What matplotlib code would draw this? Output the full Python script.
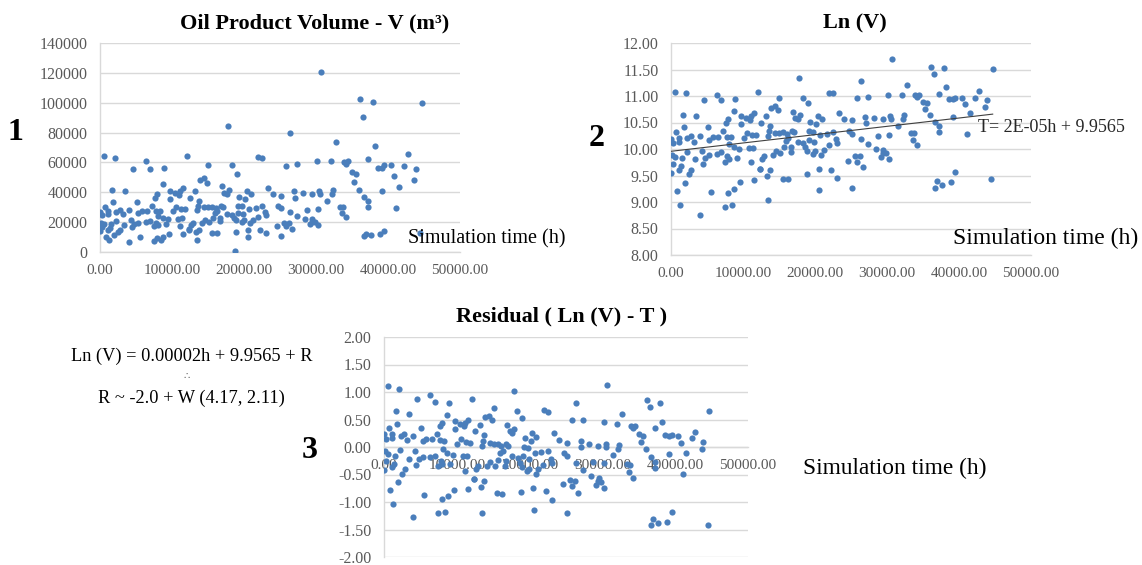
import numpy as np
import matplotlib
matplotlib.use("Agg")
import matplotlib.pyplot as plt

plt.rcParams['font.family'] = ['Liberation Serif', 'DejaVu Serif']

# ---- data (simulation hours, Ln of oil product volume) ----
hours = [
    510, 2083, 4537, 6343, 6990, 8935, 12040, 1713, 3426, 8700, 7917, 7640, 9770, 10418,
    11112, 11570, 10973, 9723, 1852, 694, 50, 231, 1065, 1111, 2268, 2732, 3195, 3982,
    5139, 5324, 5787, 6574, 7223, 7732, 8287, 8102, 8703, 9491, 10094, 10557, 11205, 11807,
    10788, 11436, 100, 602, 324, 1482, 2176, 1389, 1065, 2824, 3380, 4260, 4445, 4769,
    5324, 6343, 6990, 7454, 7778, 8009, 9120, 46, 2454, 1898, 880, 1296, 3982, 5510,
    7454, 8426, 7917, 8750, 9584, 11529, 11158, 12316,
    17824, 15046, 18289, 18984, 21992, 22548, 13890, 14446, 14862, 13149, 12548, 13705,
    16900, 17270, 17594, 17918, 19354, 20372, 20141, 20928, 23382, 24030, 13566, 13473,
    14492, 15047, 15603, 16112, 16807, 17038, 19215, 19770, 20743, 21622, 22548, 16297,
    15974, 17594, 18382, 19122, 19909, 22919, 23057, 21900, 21205, 15649, 16714, 16621,
    18613, 18890, 19678, 19955, 20882, 14585, 14122, 15186, 12872, 12640, 24540, 12409,
    13751, 13334, 15510, 16251, 18845, 20511, 22271, 23010, 20557, 13473,
    30697, 36114, 36531, 26437, 32735, 25836, 27316, 30188, 32040, 33892, 34447, 34215,
    37180, 35048, 35558, 35327, 35975, 36716, 37180, 37180, 25141, 26993, 27086, 28197,
    29400, 30465, 30558, 32179, 32318, 31485, 24678, 25141, 26391, 28752, 30234, 33336,
    33753, 33660, 34169, 27316, 28475, 29493, 29400, 29864, 29123, 30234, 25512, 26252,
    25836, 26623, 36901, 36716, 25141,
    37967, 44679, 38198, 42736, 38660, 39123, 39494, 40373, 42273, 43846, 40837, 43615,
    41532, 39216, 41068, 39494, 38939, 37642, 44448,
    18700,
]
ln_volume = [
    11.07, 11.05, 10.92, 11.02, 10.92, 10.94, 11.07, 10.64, 10.62, 10.72, 10.56, 10.50, 10.62, 10.59,
    10.62, 10.67, 10.55, 10.48, 10.42, 10.32, 10.19, 10.11, 10.21, 10.14, 10.20, 10.25, 10.14, 10.24,
    10.41, 10.17, 10.22, 10.23, 10.34, 10.23, 10.23, 10.09, 10.03, 10.00, 10.21, 10.31, 10.27, 10.27,
    10.01, 10.02, 9.89, 9.84, 9.71, 9.83, 9.94, 9.67, 9.61, 9.61, 9.81, 9.97, 9.71, 9.83,
    9.89, 9.91, 9.94, 9.76, 9.86, 9.81, 9.83, 9.54, 9.52, 9.36, 9.20, 8.95, 8.76, 9.19,
    8.91, 8.95, 9.17, 9.24, 9.37, 9.42, 9.75, 9.62,
    11.34, 10.97, 10.97, 10.87, 11.06, 11.05, 10.78, 10.81, 10.74, 10.62, 10.50, 10.44,
    10.69, 10.59, 10.56, 10.64, 10.51, 10.62, 10.47, 10.56, 10.67, 10.56, 10.34, 10.25,
    10.31, 10.31, 10.32, 10.29, 10.34, 10.32, 10.34, 10.33, 10.26, 10.29, 10.33, 10.21,
    10.16, 10.14, 10.12, 10.17, 10.14, 10.19, 10.12, 10.07, 9.98, 10.03, 10.03, 9.94,
    10.03, 9.97, 9.91, 9.96, 9.89, 9.97, 9.89, 9.92, 9.87, 9.81, 9.78, 9.63,
    9.61, 9.49, 9.43, 9.43, 9.52, 9.62, 9.61, 9.45, 9.22, 9.03,
    11.70, 11.54, 11.41, 11.29, 11.21, 10.96, 10.99, 11.02, 11.02, 11.01, 11.02, 10.99,
    11.04, 10.89, 10.86, 10.76, 10.64, 10.51, 10.43, 10.32, 10.54, 10.61, 10.49, 10.58,
    10.57, 10.62, 10.56, 10.56, 10.64, 10.44, 10.34, 10.29, 10.19, 10.25, 10.27, 10.31,
    10.31, 10.17, 10.07, 10.09, 10.00, 9.99, 9.92, 9.92, 9.84, 9.81, 9.86, 9.86,
    9.76, 9.66, 9.39, 9.27, 9.26,
    11.52, 11.51, 11.17, 11.09, 10.94, 10.94, 10.97, 10.97, 10.96, 10.92, 10.84, 10.79,
    10.68, 10.61, 10.28, 9.57, 9.38, 9.32, 9.43,
    6.80,
]
trend_slope_eq = 2e-5        # slope used in T (as written)
trend_intercept = 9.9565
trend_slope_drawn = 1.57e-5  # slope of the drawn trendline

x_ticks = [0, 10000, 20000, 30000, 40000, 50000]
y1_ticks = [0, 20000, 40000, 60000, 80000, 100000, 120000, 140000]
y2_ticks = [8.0, 8.5, 9.0, 9.5, 10.0, 10.5, 11.0, 11.5, 12.0]
y3_ticks = [-2.0, -1.5, -1.0, -0.5, 0.0, 0.5, 1.0, 1.5, 2.0]

h = np.array(hours, dtype=float)
lnv = np.array(ln_volume)
volume = np.exp(lnv)
residual = lnv - (trend_intercept + trend_slope_eq * h)

W, H = 1142, 565
fig = plt.figure(figsize=(W / 100, H / 100), dpi=100)

def px_axes(l, t, r, b):
    return fig.add_axes([l / W, 1 - b / H, (r - l) / W, (b - t) / H])

DOT = '#4A7EBB'
GRID = '#D9D9D9'
TICK = '#595959'
MS = 20

def style(ax, yticks, yfmt):
    ax.set_xlim(0, 50000)
    ax.set_ylim(yticks[0], yticks[-1])
    ax.set_xticks(x_ticks)
    ax.set_xticklabels([f"{v:.2f}" for v in x_ticks])
    ax.set_yticks(yticks)
    ax.set_yticklabels([yfmt(v) for v in yticks])
    ax.grid(axis='y', color=GRID, lw=1.0)
    ax.set_axisbelow(True)
    ax.tick_params(length=0, colors=TICK, labelsize=11.5)
    ax.tick_params(axis='x', pad=8.5, labelsize=11)
    ax.tick_params(axis='y', pad=9)
    for s in ['top', 'right']:
        ax.spines[s].set_visible(False)
    for s in ['left', 'bottom']:
        ax.spines[s].set_color(GRID)
        ax.spines[s].set_linewidth(1.0)

# Panel 1
ax1 = px_axes(100, 43, 460, 252)
style(ax1, y1_ticks, lambda v: f"{v:d}")
ax1.scatter(h, volume, s=MS, color=DOT, zorder=3, linewidths=0)

# Panel 2
ax2 = px_axes(671, 43, 1031, 255)
style(ax2, y2_ticks, lambda v: f"{v:.2f}")
ax2.scatter(h, lnv, s=MS, color=DOT, zorder=3, linewidths=0)
xl = np.array([0, h.max()])
ax2.plot(xl, trend_intercept + trend_slope_drawn * xl, color='#404040', lw=0.8, zorder=4)

# Panel 3
ax3 = px_axes(384, 337, 748, 557)
style(ax3, y3_ticks, lambda v: f"{v:.2f}")
ax3.spines['bottom'].set_position(('data', 0))
ax3.scatter(h, residual, s=MS, color=DOT, zorder=3, linewidths=0)

# Titles and annotations
def ftext(x, y, s, **kw):
    fig.text(x / W, 1 - y / H, s, **kw)

ftext(315, 23, "Oil Product Volume - V (m\u00b3)", ha='center', va='center',
      fontsize=16, fontweight='bold')
ftext(855, 23, "Ln (V)", ha='center', va='center', fontsize=16, fontweight='bold')
ftext(562, 316, "Residual ( Ln (V) - T )", ha='center', va='center',
      fontsize=16, fontweight='bold')

ftext(15, 133, "1", ha='center', va='center', fontsize=23, fontweight='bold')
ftext(597, 138, "2", ha='center', va='center', fontsize=23, fontweight='bold')
ftext(310, 450, "3", ha='center', va='center', fontsize=23, fontweight='bold')

ftext(408, 239, "Simulation time (h)", ha='left', va='center', fontsize=14.5)
ftext(953, 238, "Simulation time (h)", ha='left', va='center', fontsize=17)
ftext(803, 468, "Simulation time (h)", ha='left', va='center', fontsize=16.8)

ftext(978, 127, "T= 2E-05h + 9.9565", ha='left', va='center', fontsize=13, color='#262626')

ftext(192, 356, "Ln (V) = 0.00002h + 9.9565 + R", ha='center', va='center', fontsize=13.2)
ftext(187, 376, "\u2234", ha='center', va='center', fontsize=7,
      family=['DejaVu Sans', 'DejaVu Serif'], color='#555555')
ftext(191, 398, "R ~ -2.0 + W (4.17, 2.11)", ha='center', va='center', fontsize=13.2)

fig.savefig("out.png", dpi=100, facecolor='white')
